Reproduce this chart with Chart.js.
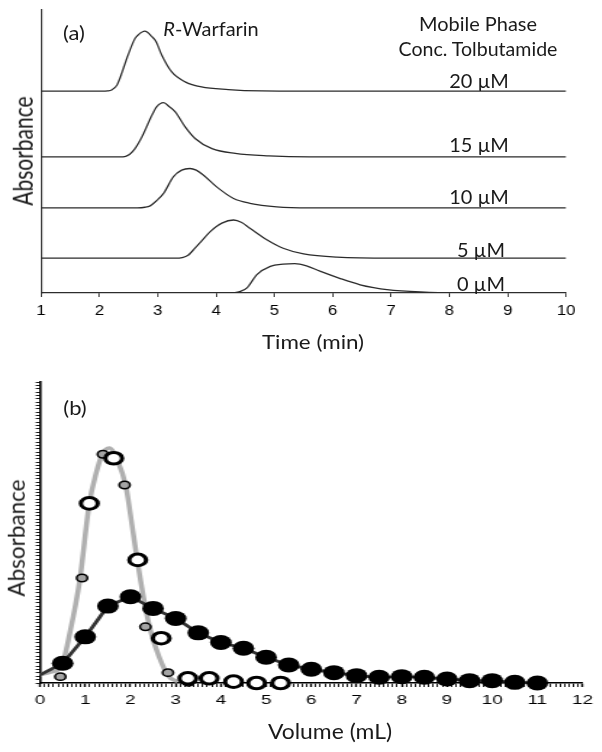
<!DOCTYPE html>
<html>
<head>
<meta charset="utf-8">
<script src="https://cdn.jsdelivr.net/npm/chart.js@4.4.1/dist/chart.umd.min.js"></script>
<style>
  body { margin: 0; background: #fff; }
  #page { position: relative; width: 602px; height: 752px; overflow: hidden; font-family: Lato, "Open Sans", sans-serif; color: #1a1a1a; }
  canvas { position: absolute; left: 0; transform-origin: 0 0; }
  #topChart { top: 0; transform: scaleX(1.2); }
  #botChart { top: 370px; transform: scaleX(1.45); }
  .lbl { position: absolute; white-space: nowrap; line-height: 1; }
</style>
</head>
<body>
<div id="page">
  <canvas id="topChart" width="502" height="360"></canvas>
  <canvas id="botChart" width="415" height="382"></canvas>

  <div class="lbl" style="left:73.5px;top:32px;font-size:20px;transform:translate(-50%,-50%) scaleX(1.1)">(a)</div>
  <div class="lbl" style="left:211px;top:28px;font-size:19px;transform:translate(-50%,-50%) scaleX(1.05)"><i>R</i>-Warfarin</div>
  <div class="lbl" style="left:478px;top:23px;font-size:19px;transform:translate(-50%,-50%) scaleX(1.05)">Mobile Phase</div>
  <div class="lbl" style="left:477.5px;top:48px;font-size:19px;transform:translate(-50%,-50%) scaleX(1.03)">Conc. Tolbutamide</div>
  <div id="concLabels"></div>
  <div class="lbl" style="left:313px;top:341px;font-size:20px;transform:translate(-50%,-50%) scaleX(1.12)">Time (min)</div>
  <div class="lbl" style="left:21.7px;top:151px;font-size:21px;transform:translate(-50%,-50%) rotate(-90deg) scaleY(1.3)">Absorbance</div>

  <div class="lbl" style="left:74.5px;top:407px;font-size:20px;transform:translate(-50%,-50%) scaleX(1.1)">(b)</div>
  <div class="lbl" style="left:16.7px;top:538px;font-size:22.5px;transform:translate(-50%,-50%) rotate(-90deg)">Absorbance</div>
  <div class="lbl" style="left:329.5px;top:730px;font-size:21px;transform:translate(-50%,-50%) scaleX(1.09)">Volume (mL)</div>
</div>

<script>
// ---- panel (a): R-warfarin peaks, one trace per tolbutamide level ----
const concLabels = ["20 µM", "15 µM", "10 µM", "5 µM", "0 µM"];
const baseOffsets = [71.3, 48.1, 30.1, 12.3, 0];
const labelPos = [[479, 80], [479, 144], [479, 196], [481, 249], [481, 283]];

const time20 = [1, 2.05, 2.14, 2.21, 2.30, 2.35, 2.44, 2.49, 2.61, 2.67, 2.78, 2.90, 2.97, 3.07, 3.24, 3.47, 3.75, 4.21, 4.78, 5.5, 10];
const abs20  = [0, 0, 0.1, 0.45, 2.1, 4.5, 9.8, 12.7, 18.6, 20.0, 21.2, 19.3, 17.6, 12.7, 6.8, 3.3, 1.5, 0.6, 0.1, 0, 0];

const time15 = [1, 2.35, 2.45, 2.52, 2.61, 2.73, 2.90, 2.98, 3.10, 3.20, 3.30, 3.47, 3.64, 3.93, 4.33, 4.90, 5.6, 10];
const abs15  = [0, 0, 0.2, 0.9, 2.9, 7.1, 14.7, 17.7, 19.2, 17.7, 15.9, 10.6, 6.5, 2.9, 1.2, 0.35, 0, 0];

const time10 = [1, 2.65, 2.78, 2.87, 2.97, 3.10, 3.27, 3.41, 3.55, 3.66, 3.78, 4.01, 4.30, 4.58, 5.04, 5.6, 10];
const abs10  = [0, 0, 0.2, 0.7, 2.3, 5.1, 11.0, 13.3, 13.9, 13.3, 11.6, 7.4, 3.3, 1.6, 0.35, 0, 0];

const time5 = [1, 3.30, 3.42, 3.52, 3.61, 3.75, 3.90, 4.10, 4.30, 4.44, 4.58, 4.87, 5.15, 5.50, 6.07, 7.0, 10];
const abs5  = [0, 0, 0.2, 1.0, 2.9, 6.0, 9.4, 12.4, 13.5, 12.6, 10.6, 6.5, 3.5, 1.5, 0.35, 0, 0];

const time0 = [1, 4.20, 4.32, 4.42, 4.53, 4.70, 4.93, 5.15, 5.35, 5.55, 5.78, 6.13, 6.47, 6.70, 6.93, 7.50, 8.07, 10];
const abs0  = [0, 0, 0.1, 0.6, 1.8, 6.5, 9.4, 10.2, 10.4, 9.6, 7.7, 5.1, 2.9, 1.9, 1.2, 0.35, 0, 0];

const traceTimes = [time20, time15, time10, time5, time0];
const traceAbs = [abs20, abs15, abs10, abs5, abs0];

// ---- panel (b): elution profiles vs volume ----
const volBlack = [0, 0.5, 1, 1.5, 2, 2.5, 3, 3.5, 4, 4.5, 5, 5.5, 6, 6.5, 7, 7.5, 8, 8.5, 9, 9.5, 10, 10.5, 11];
const absBlack = [2.4, 5.9, 13.8, 23.0, 25.8, 22.3, 19.3, 15.0, 12.1, 10.4, 7.7, 5.4, 4.1, 3.1, 2.2, 1.7, 1.9, 1.7, 1.2, 0.7, 0.7, 0.2, 0];

const volFit = [0, 0.25, 0.47, 0.66, 0.88, 1.09, 1.24, 1.37, 1.53, 1.71, 1.90, 2.04, 2.15, 2.30, 2.44, 2.63, 2.85, 3.05];
const absFit = [2.4, 3.3, 4.9, 15.0, 30.8, 53.7, 62.7, 68.2, 70.3, 66.7, 58.7, 46.7, 36.8, 24.8, 15.8, 7.9, 1.9, 0.4];

const volGray = [0.45, 0.93, 1.39, 1.87, 2.33, 2.83, 3.28];
const absGray = [1.9, 31.4, 68.4, 59.2, 16.8, 3.1, 0.2];

const volOpen = [1.09, 1.63, 2.16, 2.68, 3.27, 3.74, 4.28, 4.79, 5.32];
const absOpen = [53.7, 67.2, 36.8, 13.4, 1.4, 1.4, 0.4, 0, 0];

const toPoints = (xs, ys, off = 0) => xs.map((x, i) => ({ x, y: ys[i] + off }));

// concentration labels as page text
const holder = document.getElementById("concLabels");
concLabels.forEach((txt, i) => {
    const d = document.createElement("div");
    d.className = "lbl";
    d.textContent = txt;
    d.style.cssText = `left:${labelPos[i][0]}px;top:${labelPos[i][1]}px;font-size:19px;transform:translate(-50%,-50%) scaleX(1.05)`;
    holder.appendChild(d);
});

const tickFont = { family: "Liberation Sans", size: 14 };

new Chart(document.getElementById("topChart"), {
    type: "scatter",
    data: {
        datasets: concLabels.map((label, i) => ({
            label,
            data: toPoints(traceTimes[i], traceAbs[i], baseOffsets[i]),
            showLine: true,
            borderColor: "#2b2b2b",
            borderWidth: 1.3,
            pointRadius: 0,
            cubicInterpolationMode: "monotone",
        })),
    },
    options: {
        responsive: false,
        animation: false,
        layout: { padding: { top: 10, right: 30.3, left: 0, bottom: 0 } },
        plugins: { legend: { display: false }, tooltip: { enabled: false } },
        scales: {
            x: {
                type: "linear",
                min: 1,
                max: 10,
                afterFit: (s) => { s.height = 67; },
                ticks: { stepSize: 1, color: "#000", font: tickFont, padding: 6, maxRotation: 0 },
                grid: { drawOnChartArea: false, tickLength: 4, tickColor: "#333" },
                border: { color: "#333", width: 1.2 },
            },
            y: {
                min: 0,
                max: 100,
                afterFit: (s) => { s.width = 34.2; },
                ticks: { display: false },
                grid: { display: false },
                border: { color: "#333", width: 1.2 },
            },
        },
    },
});

const isWhole = (v) => Math.abs(v - Math.round(v)) < 1e-6;

new Chart(document.getElementById("botChart"), {
    type: "scatter",
    data: {
        datasets: [
            {
                label: "fit",
                data: toPoints(volFit, absFit),
                showLine: true,
                borderColor: "#b0b0b0",
                borderWidth: 3.5,
                pointRadius: 0,
                cubicInterpolationMode: "monotone",
                clip: false,
                order: 4,
            },
            {
                label: "filled",
                data: toPoints(volBlack, absBlack),
                showLine: true,
                borderColor: "#333",
                borderWidth: 2.8,
                pointRadius: (c) => (c.dataIndex === 0 ? 0 : 7.5),
                pointBackgroundColor: "#000",
                pointBorderColor: "#000",
                pointBorderWidth: 0,
                clip: false,
                order: 3,
            },
            {
                label: "gray",
                data: toPoints(volGray, absGray),
                pointRadius: 3.7,
                pointBackgroundColor: "#a5a5a5",
                pointBorderColor: "#000",
                pointBorderWidth: 1.5,
                clip: false,
                order: 2,
            },
            {
                label: "open",
                data: toPoints(volOpen, absOpen),
                pointRadius: 5.8,
                pointBackgroundColor: "#fff",
                pointBorderColor: "#000",
                pointBorderWidth: 3,
                clip: false,
                order: 1,
            },
        ],
    },
    options: {
        responsive: false,
        animation: false,
        layout: { padding: { top: 12, right: 10.9, left: 0, bottom: 0 } },
        plugins: { legend: { display: false }, tooltip: { enabled: false } },
        scales: {
            x: {
                type: "linear",
                min: 0,
                max: 12,
                afterFit: (s) => { s.height = 69; },
                ticks: {
                    stepSize: 0.1,
                    autoSkip: false,
                    maxRotation: 0,
                    color: "#000",
                    font: { family: "Liberation Sans", size: 13 },
                    padding: 6,
                    callback: (v) => (isWhole(v) ? String(Math.round(v)) : ""),
                },
                grid: {
                    drawOnChartArea: false,
                    tickLength: 4,
                    tickColor: "#000",
                    tickWidth: (c) => (c.tick && isWhole(c.tick.value) ? 1.4 : 0.9),
                },
                border: { color: "#000", width: 1.6 },
            },
            y: {
                min: 0,
                max: 90,
                afterFit: (s) => { s.width = 27.6; },
                ticks: { display: false, stepSize: 1, autoSkip: false },
                grid: { drawOnChartArea: false, tickLength: 3, tickColor: "#000", tickWidth: 0.9 },
                border: { color: "#000", width: 1.6 },
            },
        },
    },
});
</script>
</body>
</html>
